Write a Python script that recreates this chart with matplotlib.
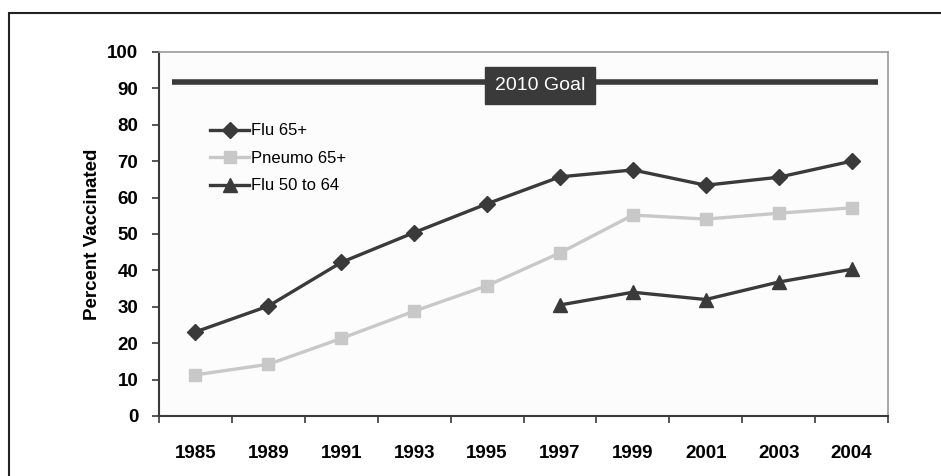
import matplotlib.pyplot as plt
import numpy as np
from matplotlib.patches import Rectangle

years = ["1985", "1989", "1991", "1993", "1995", "1997", "1999", "2001", "2003", "2004"]
flu_65 = [23.1, 30.2, 42.2, 50.4, 58.3, 65.7, 67.6, 63.4, 65.6, 70.0]
pneumo_65 = [11.3, 14.2, 21.3, 28.8, 35.8, 44.8, 55.2, 54.1, 55.7, 57.2]
flu_50_64 = [None, None, None, None, None, 30.5, 34.0, 32.0, 36.8, 40.3]
goal = 91.8

plt.rcParams["font.family"] = ["Liberation Sans", "DejaVu Sans"]

fig = plt.figure(figsize=(9.41, 4.76), dpi=100)
ax = fig.add_axes([159 / 941, 60 / 476, 729 / 941, 364 / 476])
ax.set_facecolor("#fcfcfc")

x = np.arange(len(years))
dark = "#3a3a3a"
light = "#c8c8c8"

ax.plot([-0.32, 9.36], [goal, goal], color=dark, linewidth=4, solid_capstyle="butt", zorder=2)
ax.text(4.73, goal - 1.0, "2010 Goal", color="white", fontsize=14, ha="center", va="center",
        bbox=dict(boxstyle="square,pad=0.5", facecolor=dark, edgecolor=dark), zorder=3)

ax.plot(x, flu_65, color=dark, linewidth=2.4, marker="D", markersize=8, label="Flu 65+", zorder=4)
ax.plot(x, pneumo_65, color=light, linewidth=2.4, marker="s", markersize=9, label="Pneumo 65+", zorder=4)
f5064 = np.array([np.nan if v is None else v for v in flu_50_64], dtype=float)
ax.plot(x, f5064, color=dark, linewidth=2.4, marker="^", markersize=10, label="Flu 50 to 64", zorder=4)

ax.set_xlim(-0.5, len(years) - 0.5)
ax.set_ylim(0, 100)
ax.set_yticks(range(0, 101, 10))
ax.set_xticks(x)
ax.set_xticklabels(years)
ax.set_xticks(np.arange(-0.5, len(years), 1.0), minor=True)
ax.tick_params(axis="x", which="major", length=0, pad=21)
ax.tick_params(axis="x", which="minor", length=5, width=1.2, color=dark)
ax.tick_params(axis="y", length=5, width=1.2, color=dark, pad=10)
for lab in ax.get_xticklabels() + ax.get_yticklabels():
    lab.set_fontweight("bold")
    lab.set_fontsize(13.5)

ax.set_ylabel("Percent Vaccinated", fontsize=13.5, fontweight="bold", labelpad=4)

for side in ["left", "bottom"]:
    ax.spines[side].set_color(dark)
    ax.spines[side].set_linewidth(1.5)
for side in ["top", "right"]:
    ax.spines[side].set_color("#9a9a9a")
    ax.spines[side].set_linewidth(1.2)

ax.legend(loc="upper left", bbox_to_anchor=(0.05, 0.845), frameon=False, fontsize=12,
          handlelength=2.3, handletextpad=0.15, labelspacing=0.75)

# outer frame, only top and left edges are visible in the source image
fig.patches.append(Rectangle((9 / 941, -0.1), 1.2, (476 - 13) / 476 + 0.1,
                             transform=fig.transFigure, fill=False,
                             edgecolor="#222222", linewidth=1.5))

fig.savefig("out.png", dpi=100)
